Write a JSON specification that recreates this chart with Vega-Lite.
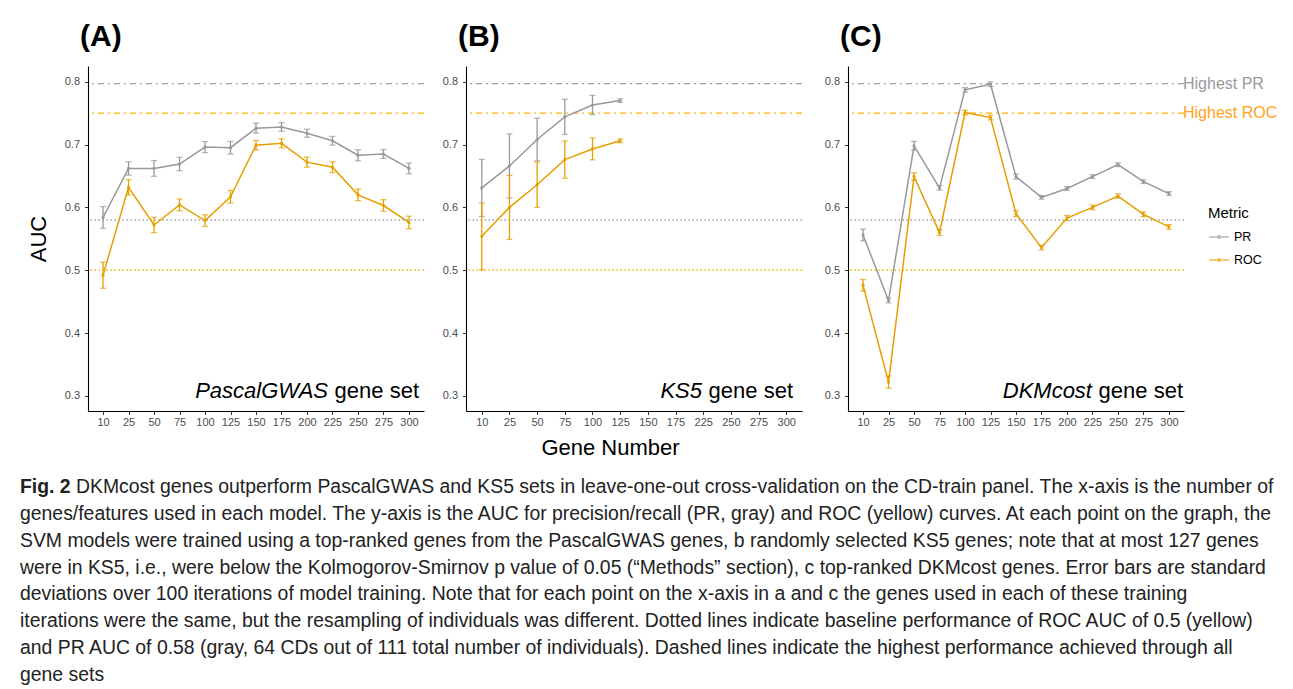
{
  "$schema": "https://vega.github.io/schema/vega-lite/v6.json",
  "background": "white",
  "padding": {"left": 20, "top": 22, "right": 0, "bottom": 0},
  "datasets": {
    "A": [
      {"genes": 10, "metric": "PR", "auc": 0.584, "sd": 0.0173},
      {"genes": 25, "metric": "PR", "auc": 0.662, "sd": 0.0106},
      {"genes": 50, "metric": "PR", "auc": 0.662, "sd": 0.0125},
      {"genes": 75, "metric": "PR", "auc": 0.669, "sd": 0.0106},
      {"genes": 100, "metric": "PR", "auc": 0.696, "sd": 0.0088},
      {"genes": 125, "metric": "PR", "auc": 0.695, "sd": 0.010},
      {"genes": 150, "metric": "PR", "auc": 0.726, "sd": 0.008},
      {"genes": 175, "metric": "PR", "auc": 0.728, "sd": 0.007},
      {"genes": 200, "metric": "PR", "auc": 0.718, "sd": 0.0064},
      {"genes": 225, "metric": "PR", "auc": 0.706, "sd": 0.007},
      {"genes": 250, "metric": "PR", "auc": 0.683, "sd": 0.0088},
      {"genes": 275, "metric": "PR", "auc": 0.685, "sd": 0.007},
      {"genes": 300, "metric": "PR", "auc": 0.662, "sd": 0.0085},
      {"genes": 10, "metric": "ROC", "auc": 0.492, "sd": 0.0207},
      {"genes": 25, "metric": "ROC", "auc": 0.632, "sd": 0.0122},
      {"genes": 50, "metric": "ROC", "auc": 0.572, "sd": 0.0122},
      {"genes": 75, "metric": "ROC", "auc": 0.604, "sd": 0.0093},
      {"genes": 100, "metric": "ROC", "auc": 0.579, "sd": 0.0093},
      {"genes": 125, "metric": "ROC", "auc": 0.617, "sd": 0.010},
      {"genes": 150, "metric": "ROC", "auc": 0.699, "sd": 0.0074},
      {"genes": 175, "metric": "ROC", "auc": 0.702, "sd": 0.0072},
      {"genes": 200, "metric": "ROC", "auc": 0.672, "sd": 0.008},
      {"genes": 225, "metric": "ROC", "auc": 0.664, "sd": 0.0085},
      {"genes": 250, "metric": "ROC", "auc": 0.620, "sd": 0.0093},
      {"genes": 275, "metric": "ROC", "auc": 0.603, "sd": 0.0093},
      {"genes": 300, "metric": "ROC", "auc": 0.576, "sd": 0.010}
    ],
    "B": [
      {"genes": 10, "metric": "PR", "auc": 0.631, "sd": 0.0454},
      {"genes": 25, "metric": "PR", "auc": 0.666, "sd": 0.051},
      {"genes": 50, "metric": "PR", "auc": 0.708, "sd": 0.034},
      {"genes": 75, "metric": "PR", "auc": 0.744, "sd": 0.028},
      {"genes": 100, "metric": "PR", "auc": 0.763, "sd": 0.0154},
      {"genes": 125, "metric": "PR", "auc": 0.770, "sd": 0.003},
      {"genes": 10, "metric": "ROC", "auc": 0.554, "sd": 0.0528},
      {"genes": 25, "metric": "ROC", "auc": 0.600, "sd": 0.051},
      {"genes": 50, "metric": "ROC", "auc": 0.636, "sd": 0.036},
      {"genes": 75, "metric": "ROC", "auc": 0.676, "sd": 0.0297},
      {"genes": 100, "metric": "ROC", "auc": 0.693, "sd": 0.0175},
      {"genes": 125, "metric": "ROC", "auc": 0.706, "sd": 0.003}
    ],
    "C": [
      {"genes": 10, "metric": "PR", "auc": 0.556, "sd": 0.0093},
      {"genes": 25, "metric": "PR", "auc": 0.452, "sd": 0.004},
      {"genes": 50, "metric": "PR", "auc": 0.698, "sd": 0.007},
      {"genes": 75, "metric": "PR", "auc": 0.631, "sd": 0.0035},
      {"genes": 100, "metric": "PR", "auc": 0.787, "sd": 0.0035},
      {"genes": 125, "metric": "PR", "auc": 0.796, "sd": 0.0037},
      {"genes": 150, "metric": "PR", "auc": 0.649, "sd": 0.004},
      {"genes": 175, "metric": "PR", "auc": 0.616, "sd": 0.003},
      {"genes": 200, "metric": "PR", "auc": 0.630, "sd": 0.003},
      {"genes": 225, "metric": "PR", "auc": 0.649, "sd": 0.003},
      {"genes": 250, "metric": "PR", "auc": 0.668, "sd": 0.003},
      {"genes": 275, "metric": "PR", "auc": 0.641, "sd": 0.003},
      {"genes": 300, "metric": "PR", "auc": 0.622, "sd": 0.003},
      {"genes": 10, "metric": "ROC", "auc": 0.476, "sd": 0.0093},
      {"genes": 25, "metric": "ROC", "auc": 0.322, "sd": 0.0098},
      {"genes": 50, "metric": "ROC", "auc": 0.649, "sd": 0.006},
      {"genes": 75, "metric": "ROC", "auc": 0.560, "sd": 0.0045},
      {"genes": 100, "metric": "ROC", "auc": 0.751, "sd": 0.0035},
      {"genes": 125, "metric": "ROC", "auc": 0.743, "sd": 0.0037},
      {"genes": 150, "metric": "ROC", "auc": 0.590, "sd": 0.0045},
      {"genes": 175, "metric": "ROC", "auc": 0.536, "sd": 0.0037},
      {"genes": 200, "metric": "ROC", "auc": 0.583, "sd": 0.004},
      {"genes": 225, "metric": "ROC", "auc": 0.600, "sd": 0.0037},
      {"genes": 250, "metric": "ROC", "auc": 0.618, "sd": 0.0035},
      {"genes": 275, "metric": "ROC", "auc": 0.589, "sd": 0.0037},
      {"genes": 300, "metric": "ROC", "auc": 0.569, "sd": 0.0037}
    ],
    "lines": [
      {"value": 0.797, "metric": "PR", "kind": "highest", "label": "Highest PR"},
      {"value": 0.75, "metric": "ROC", "kind": "highest", "label": "Highest ROC"},
      {"value": 0.58, "metric": "PR", "kind": "baseline", "label": ""},
      {"value": 0.5, "metric": "ROC", "kind": "baseline", "label": ""}
    ],
    "caption": [
      {"line": 2, "text": "genes/features used in each model. The y-axis is the AUC for precision/recall (PR, gray) and ROC (yellow) curves. At each point on the graph, the"},
      {"line": 3, "text": "SVM models were trained using a top-ranked genes from the PascalGWAS genes, b randomly selected KS5 genes; note that at most 127 genes"},
      {"line": 4, "text": "were in KS5, i.e., were below the Kolmogorov-Smirnov p value of 0.05 (“Methods” section), c top-ranked DKMcost genes. Error bars are standard"},
      {"line": 5, "text": "deviations over 100 iterations of model training. Note that for each point on the x-axis in a and c the genes used in each of these training"},
      {"line": 6, "text": "iterations were the same, but the resampling of individuals was different. Dotted lines indicate baseline performance of ROC AUC of 0.5 (yellow)"},
      {"line": 7, "text": "and PR AUC of 0.58 (gray, 64 CDs out of 111 total number of individuals). Dashed lines indicate the highest performance achieved through all"},
      {"line": 8, "text": "gene sets"}
    ],
    "captionFirst": [
      {"line": 1, "text": "DKMcost genes outperform PascalGWAS and KS5 sets in leave-one-out cross-validation on the CD-train panel. The x-axis is the number of"}
    ],
    "captionBold": [
      {"line": 1, "text": "Fig. 2"}
    ]
  },
  "vconcat": [
    {
      "hconcat": [
        {
          "width": 336, "height": 345,
          "title": {"text": "(A)", "anchor": "start", "frame": "group", "fontSize": 30, "fontWeight": "bold", "dx": -8, "offset": 14, "color": "black"},
          "layer": [
            {"data": {"name": "lines"}, "transform": [{"filter": "datum.metric === 'PR' && datum.kind === 'highest'"}], "mark": {"type": "rule", "color": "#A0A0A0", "strokeDash": [6, 4, 2, 4], "strokeWidth": 1.2}, "encoding": {"y": {"field": "value", "type": "quantitative", "title": "AUC", "scale": {"domain": [0.276, 0.825], "nice": false, "zero": false}}}},
            {"data": {"name": "lines"}, "transform": [{"filter": "datum.metric === 'ROC' && datum.kind === 'highest'"}], "mark": {"type": "rule", "color": "#FFB300", "strokeDash": [6, 4, 2, 4], "strokeWidth": 1.2}, "encoding": {"y": {"field": "value", "type": "quantitative", "title": "AUC", "scale": {"domain": [0.276, 0.825], "nice": false, "zero": false}}}},
            {"data": {"name": "lines"}, "transform": [{"filter": "datum.metric === 'PR' && datum.kind === 'baseline'"}], "mark": {"type": "rule", "color": "#A0A0A0", "strokeDash": [1.5, 2.5], "strokeWidth": 1.4}, "encoding": {"y": {"field": "value", "type": "quantitative", "title": "AUC", "scale": {"domain": [0.276, 0.825], "nice": false, "zero": false}}}},
            {"data": {"name": "lines"}, "transform": [{"filter": "datum.metric === 'ROC' && datum.kind === 'baseline'"}], "mark": {"type": "rule", "color": "#FFB300", "strokeDash": [1.5, 2.5], "strokeWidth": 1.4}, "encoding": {"y": {"field": "value", "type": "quantitative", "title": "AUC", "scale": {"domain": [0.276, 0.825], "nice": false, "zero": false}}}},
            {"data": {"name": "A"}, "mark": {"type": "errorbar", "ticks": true, "size": 6, "thickness": 1.3},
             "encoding": {
               "x": {"field": "genes", "type": "ordinal", "scale": {"type": "point", "padding": 0.59, "domain": [10, 25, 50, 75, 100, 125, 150, 175, 200, 225, 250, 275, 300]}},
               "y": {"field": "auc", "type": "quantitative", "title": "AUC", "scale": {"domain": [0.276, 0.825], "nice": false, "zero": false}},
               "yError": {"field": "sd"},
               "color": {"field": "metric", "type": "nominal", "scale": {"domain": ["PR", "ROC"], "range": ["#999999", "#E69F00"]}, "legend": null}}},
            {"data": {"name": "A"}, "mark": {"type": "line", "strokeWidth": 1.5},
             "encoding": {
               "x": {"field": "genes", "type": "ordinal", "scale": {"type": "point", "padding": 0.59, "domain": [10, 25, 50, 75, 100, 125, 150, 175, 200, 225, 250, 275, 300]}, "axis": {"title": null}},
               "y": {"field": "auc", "type": "quantitative", "title": "AUC", "scale": {"domain": [0.276, 0.825], "nice": false, "zero": false}, "axis": {"values": [0.3, 0.4, 0.5, 0.6, 0.7, 0.8], "format": ".1f", "title": "AUC", "titlePadding": 14}},
               "color": {"field": "metric", "type": "nominal", "scale": {"domain": ["PR", "ROC"], "range": ["#999999", "#E69F00"]}, "legend": null}}},
            {"data": {"name": "A"}, "mark": {"type": "point", "filled": true, "size": 10, "opacity": 1},
             "encoding": {
               "x": {"field": "genes", "type": "ordinal", "scale": {"type": "point", "padding": 0.59, "domain": [10, 25, 50, 75, 100, 125, 150, 175, 200, 225, 250, 275, 300]}},
               "y": {"field": "auc", "type": "quantitative", "title": "AUC", "scale": {"domain": [0.276, 0.825], "nice": false, "zero": false}},
               "color": {"field": "metric", "type": "nominal", "scale": {"domain": ["PR", "ROC"], "range": ["#999999", "#E69F00"]}, "legend": null}}},
            {"data": {"values": [{"name": "PascalGWAS", "rest": "gene set"}]}, "mark": {"type": "text", "align": "right", "baseline": "middle", "fontSize": 22, "fontStyle": "italic", "dx": -96, "dy": -20, "color": "black"},
             "encoding": {"x": {"value": "width"}, "y": {"value": "height"}, "text": {"field": "name"}}},
            {"data": {"values": [{"name": "PascalGWAS", "rest": "gene set"}]}, "mark": {"type": "text", "align": "right", "baseline": "middle", "fontSize": 22, "dx": -5, "dy": -20, "color": "black"},
             "encoding": {"x": {"value": "width"}, "y": {"value": "height"}, "text": {"field": "rest"}}}
          ]
        },
        {
          "width": 336, "height": 345,
          "title": {"text": "(B)", "anchor": "start", "frame": "group", "fontSize": 30, "fontWeight": "bold", "dx": -8, "offset": 14, "color": "black"},
          "layer": [
            {"data": {"name": "lines"}, "transform": [{"filter": "datum.metric === 'PR' && datum.kind === 'highest'"}], "mark": {"type": "rule", "color": "#A0A0A0", "strokeDash": [6, 4, 2, 4], "strokeWidth": 1.2}, "encoding": {"y": {"field": "value", "type": "quantitative", "title": null, "scale": {"domain": [0.276, 0.825], "nice": false, "zero": false}}}},
            {"data": {"name": "lines"}, "transform": [{"filter": "datum.metric === 'ROC' && datum.kind === 'highest'"}], "mark": {"type": "rule", "color": "#FFB300", "strokeDash": [6, 4, 2, 4], "strokeWidth": 1.2}, "encoding": {"y": {"field": "value", "type": "quantitative", "title": null, "scale": {"domain": [0.276, 0.825], "nice": false, "zero": false}}}},
            {"data": {"name": "lines"}, "transform": [{"filter": "datum.metric === 'PR' && datum.kind === 'baseline'"}], "mark": {"type": "rule", "color": "#A0A0A0", "strokeDash": [1.5, 2.5], "strokeWidth": 1.4}, "encoding": {"y": {"field": "value", "type": "quantitative", "title": null, "scale": {"domain": [0.276, 0.825], "nice": false, "zero": false}}}},
            {"data": {"name": "lines"}, "transform": [{"filter": "datum.metric === 'ROC' && datum.kind === 'baseline'"}], "mark": {"type": "rule", "color": "#FFB300", "strokeDash": [1.5, 2.5], "strokeWidth": 1.4}, "encoding": {"y": {"field": "value", "type": "quantitative", "title": null, "scale": {"domain": [0.276, 0.825], "nice": false, "zero": false}}}},
            {"data": {"name": "B"}, "mark": {"type": "errorbar", "ticks": true, "size": 6, "thickness": 1.3},
             "encoding": {
               "x": {"field": "genes", "type": "ordinal", "scale": {"type": "point", "padding": 0.57, "domain": [10, 25, 50, 75, 100, 125, 150, 175, 225, 250, 275, 300]}},
               "y": {"field": "auc", "type": "quantitative", "title": null, "scale": {"domain": [0.276, 0.825], "nice": false, "zero": false}},
               "yError": {"field": "sd"},
               "color": {"field": "metric", "type": "nominal", "scale": {"domain": ["PR", "ROC"], "range": ["#999999", "#E69F00"]}, "legend": null}}},
            {"data": {"name": "B"}, "mark": {"type": "line", "strokeWidth": 1.5},
             "encoding": {
               "x": {"field": "genes", "type": "ordinal", "scale": {"type": "point", "padding": 0.57, "domain": [10, 25, 50, 75, 100, 125, 150, 175, 225, 250, 275, 300]}, "axis": {"title": "Gene Number", "titleX": 144}},
               "y": {"field": "auc", "type": "quantitative", "title": null, "scale": {"domain": [0.276, 0.825], "nice": false, "zero": false}, "axis": {"values": [0.3, 0.4, 0.5, 0.6, 0.7, 0.8], "format": ".1f", "title": null}},
               "color": {"field": "metric", "type": "nominal", "scale": {"domain": ["PR", "ROC"], "range": ["#999999", "#E69F00"]}, "legend": null}}},
            {"data": {"name": "B"}, "mark": {"type": "point", "filled": true, "size": 10, "opacity": 1},
             "encoding": {
               "x": {"field": "genes", "type": "ordinal", "scale": {"type": "point", "padding": 0.57, "domain": [10, 25, 50, 75, 100, 125, 150, 175, 225, 250, 275, 300]}},
               "y": {"field": "auc", "type": "quantitative", "title": null, "scale": {"domain": [0.276, 0.825], "nice": false, "zero": false}},
               "color": {"field": "metric", "type": "nominal", "scale": {"domain": ["PR", "ROC"], "range": ["#999999", "#E69F00"]}, "legend": null}}},
            {"data": {"values": [{"name": "KS5", "rest": "gene set"}]}, "mark": {"type": "text", "align": "right", "baseline": "middle", "fontSize": 22, "fontStyle": "italic", "dx": -100, "dy": -20, "color": "black"},
             "encoding": {"x": {"value": "width"}, "y": {"value": "height"}, "text": {"field": "name"}}},
            {"data": {"values": [{"name": "KS5", "rest": "gene set"}]}, "mark": {"type": "text", "align": "right", "baseline": "middle", "fontSize": 22, "dx": -9, "dy": -20, "color": "black"},
             "encoding": {"x": {"value": "width"}, "y": {"value": "height"}, "text": {"field": "rest"}}}
          ]
        },
        {
          "width": 336, "height": 345,
          "title": {"text": "(C)", "anchor": "start", "frame": "group", "fontSize": 30, "fontWeight": "bold", "dx": -8, "offset": 14, "color": "black"},
          "layer": [
            {"data": {"name": "lines"}, "transform": [{"filter": "datum.metric === 'PR' && datum.kind === 'highest'"}], "mark": {"type": "rule", "color": "#A0A0A0", "strokeDash": [6, 4, 2, 4], "strokeWidth": 1.2}, "encoding": {"y": {"field": "value", "type": "quantitative", "title": null, "scale": {"domain": [0.276, 0.825], "nice": false, "zero": false}}}},
            {"data": {"name": "lines"}, "transform": [{"filter": "datum.metric === 'ROC' && datum.kind === 'highest'"}], "mark": {"type": "rule", "color": "#FFB300", "strokeDash": [6, 4, 2, 4], "strokeWidth": 1.2}, "encoding": {"y": {"field": "value", "type": "quantitative", "title": null, "scale": {"domain": [0.276, 0.825], "nice": false, "zero": false}}}},
            {"data": {"name": "lines"}, "transform": [{"filter": "datum.metric === 'PR' && datum.kind === 'baseline'"}], "mark": {"type": "rule", "color": "#A0A0A0", "strokeDash": [1.5, 2.5], "strokeWidth": 1.4}, "encoding": {"y": {"field": "value", "type": "quantitative", "title": null, "scale": {"domain": [0.276, 0.825], "nice": false, "zero": false}}}},
            {"data": {"name": "lines"}, "transform": [{"filter": "datum.metric === 'ROC' && datum.kind === 'baseline'"}], "mark": {"type": "rule", "color": "#FFB300", "strokeDash": [1.5, 2.5], "strokeWidth": 1.4}, "encoding": {"y": {"field": "value", "type": "quantitative", "title": null, "scale": {"domain": [0.276, 0.825], "nice": false, "zero": false}}}},
            {"data": {"name": "lines"}, "transform": [{"filter": "datum.metric === 'PR' && datum.kind === 'highest'"}], "mark": {"type": "text", "align": "left", "baseline": "middle", "fontSize": 16, "dx": -1, "color": "#999999"},
             "encoding": {"x": {"value": "width"}, "y": {"field": "value", "type": "quantitative", "title": null, "scale": {"domain": [0.276, 0.825], "nice": false, "zero": false}}, "text": {"field": "label"}}},
            {"data": {"name": "lines"}, "transform": [{"filter": "datum.metric === 'ROC' && datum.kind === 'highest'"}], "mark": {"type": "text", "align": "left", "baseline": "middle", "fontSize": 16, "dx": -1, "color": "#FFA31A"},
             "encoding": {"x": {"value": "width"}, "y": {"field": "value", "type": "quantitative", "title": null, "scale": {"domain": [0.276, 0.825], "nice": false, "zero": false}}, "text": {"field": "label"}}},
            {"data": {"name": "C"}, "mark": {"type": "errorbar", "ticks": true, "size": 6, "thickness": 1.3},
             "encoding": {
               "x": {"field": "genes", "type": "ordinal", "scale": {"type": "point", "padding": 0.59, "domain": [10, 25, 50, 75, 100, 125, 150, 175, 200, 225, 250, 275, 300]}},
               "y": {"field": "auc", "type": "quantitative", "title": null, "scale": {"domain": [0.276, 0.825], "nice": false, "zero": false}},
               "yError": {"field": "sd"},
               "color": {"field": "metric", "type": "nominal", "scale": {"domain": ["PR", "ROC"], "range": ["#999999", "#E69F00"]}}}},
            {"data": {"name": "C"}, "mark": {"type": "line", "strokeWidth": 1.5},
             "encoding": {
               "x": {"field": "genes", "type": "ordinal", "scale": {"type": "point", "padding": 0.59, "domain": [10, 25, 50, 75, 100, 125, 150, 175, 200, 225, 250, 275, 300]}, "axis": {"title": null}},
               "y": {"field": "auc", "type": "quantitative", "title": null, "scale": {"domain": [0.276, 0.825], "nice": false, "zero": false}, "axis": {"values": [0.3, 0.4, 0.5, 0.6, 0.7, 0.8], "format": ".1f", "title": null, "minExtent": 28}},
               "color": {"field": "metric", "type": "nominal", "scale": {"domain": ["PR", "ROC"], "range": ["#999999", "#E69F00"]},
                 "legend": {"title": "Metric", "orient": "none", "legendX": 360, "legendY": 140, "symbolType": "M-1,0L1,0M0.12,0A0.12,0.12,0,1,1,-0.12,0A0.12,0.12,0,1,1,0.12,0", "symbolSize": 380, "symbolStrokeWidth": 1.6, "titleFontSize": 15, "titleFontWeight": "normal", "titleColor": "black", "labelFontSize": 12.5, "labelColor": "black", "rowPadding": 5, "titlePadding": 5, "padding": 0}}}},
            {"data": {"name": "C"}, "mark": {"type": "point", "filled": true, "size": 10, "opacity": 1},
             "encoding": {
               "x": {"field": "genes", "type": "ordinal", "scale": {"type": "point", "padding": 0.59, "domain": [10, 25, 50, 75, 100, 125, 150, 175, 200, 225, 250, 275, 300]}},
               "y": {"field": "auc", "type": "quantitative", "title": null, "scale": {"domain": [0.276, 0.825], "nice": false, "zero": false}},
               "color": {"field": "metric", "type": "nominal", "scale": {"domain": ["PR", "ROC"], "range": ["#999999", "#E69F00"]}}}},
            {"data": {"values": [{"name": "DKMcost", "rest": "gene set"}]}, "mark": {"type": "text", "align": "right", "baseline": "middle", "fontSize": 22, "fontStyle": "italic", "dx": -92, "dy": -20, "color": "black"},
             "encoding": {"x": {"value": "width"}, "y": {"value": "height"}, "text": {"field": "name"}}},
            {"data": {"values": [{"name": "DKMcost", "rest": "gene set"}]}, "mark": {"type": "text", "align": "right", "baseline": "middle", "fontSize": 22, "dx": -1, "dy": -20, "color": "black"},
             "encoding": {"x": {"value": "width"}, "y": {"value": "height"}, "text": {"field": "rest"}}}
          ]
        }
      ],
      "spacing": 17,
      "resolve": {"legend": {"color": "independent"}}
    },
    {
      "width": 1250, "height": 214,
      "layer": [
        {"data": {"name": "captionBold"}, "mark": {"type": "text", "align": "left", "baseline": "middle", "fontSize": 19.4, "fontWeight": "bold", "dx": -68, "color": "#222222"},
         "encoding": {"x": {"value": 0}, "y": {"field": "line", "type": "ordinal", "scale": {"type": "point", "domain": [1, 2, 3, 4, 5, 6, 7, 8]}, "axis": null}, "text": {"field": "text"}}},
        {"data": {"name": "captionFirst"}, "mark": {"type": "text", "align": "left", "baseline": "middle", "fontSize": 19.4, "dx": -12, "color": "#222222"},
         "encoding": {"x": {"value": 0}, "y": {"field": "line", "type": "ordinal", "scale": {"type": "point", "domain": [1, 2, 3, 4, 5, 6, 7, 8]}, "axis": null}, "text": {"field": "text"}}},
        {"data": {"name": "caption"}, "mark": {"type": "text", "align": "left", "baseline": "middle", "fontSize": 19.4, "dx": -68, "color": "#222222"},
         "encoding": {"x": {"value": 0}, "y": {"field": "line", "type": "ordinal", "scale": {"type": "point", "domain": [1, 2, 3, 4, 5, 6, 7, 8]}, "axis": null}, "text": {"field": "text"}}}
      ]
    }
  ],
  "spacing": 15,
  "config": {
    "font": "Liberation Sans",
    "view": {"stroke": null},
    "axis": {"domainColor": "black", "domainWidth": 1.1, "tickColor": "#333333", "tickSize": 3.5, "tickWidth": 1, "labelColor": "#4D4D4D", "grid": false, "titleFontWeight": "normal", "titleColor": "black", "titleFontSize": 22, "labelPadding": 2},
    "axisX": {"labelFontSize": 11, "labelAngle": 0, "titlePadding": 10},
    "axisY": {"labelFontSize": 11, "labelPadding": 5, "titlePadding": 12}
  }
}
